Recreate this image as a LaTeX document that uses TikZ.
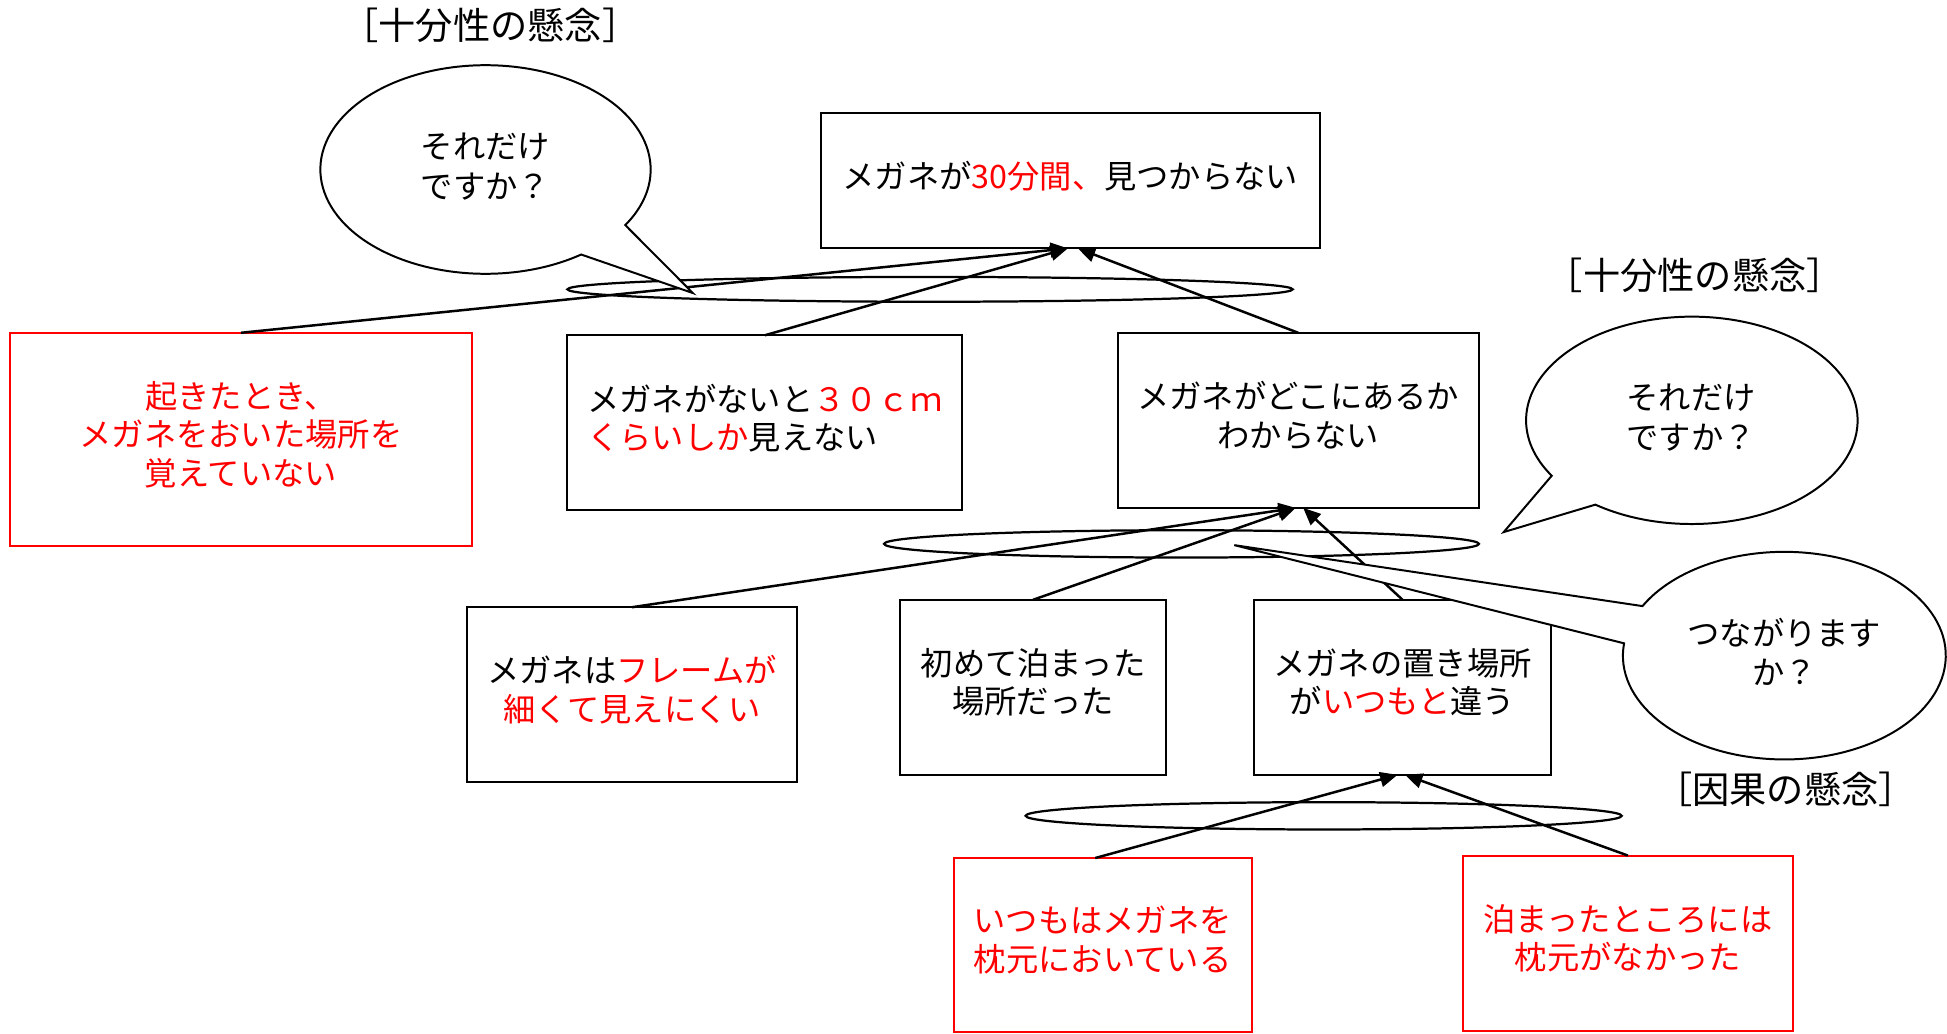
\documentclass[tikz,border=0pt]{standalone}
\usepackage{fontspec}
\setmainfont{Noto Sans CJK JP}
\usetikzlibrary{arrows.meta}
\definecolor{myred}{RGB}{255,0,0}
\begin{document}
\begin{tikzpicture}[x=0.5pt,y=-0.5pt,
  box/.style={draw=black, line width=0.8pt, inner sep=0pt, outer sep=0pt, align=center, fill=white, text depth=5pt, font=\fontsize{13}{15.5}\selectfont},
  redbox/.style={box, draw=myred, text=myred},
  ring/.style={draw, line width=0.9pt},
  arr/.style={line width=1pt, -{Triangle[length=7pt,width=6pt]}},
  bubble/.style={draw, line width=0.8pt, fill=white},
  btext/.style={align=left, font=\fontsize{13}{16}\selectfont},
  lbl/.style={font=\fontsize{15}{17}\selectfont}
]
\useasboundingbox (0,0) rectangle (1568,832);

% grouping ellipses
\draw[ring] (749,233) ellipse [x radius=292, y radius=10];
\draw[ring] (951.5,438) ellipse [x radius=239.5, y radius=11];
\draw[ring] (1066,657) ellipse [x radius=240, y radius=11];

% boxes
\node[box, minimum width=201pt, minimum height=54.5pt] (T) at (862,145.5)
  {メガネが{\color{myred}30分間、}見つからない};
\node[redbox, minimum width=186pt, minimum height=86pt] (L) at (194,354)
  {起きたとき、\\メガネをおいた場所を\\覚えていない};
\node[box, align=left, minimum width=159pt, minimum height=70.5pt] (M) at (616,340.5)
  {メガネがないと{\color{myred}３０ｃｍ}\\{\color{myred}くらいしか}見えない};
\node[box, minimum width=145.5pt, minimum height=70.5pt] (R) at (1045.5,338.5)
  {メガネがどこにあるか\\わからない};
\node[box, minimum width=133pt, minimum height=70.5pt] (A) at (509,559.5)
  {メガネは{\color{myred}フレームが}\\{\color{myred}細くて見えにくい}};
\node[box, minimum width=107pt, minimum height=70.5pt] (B) at (832,553.5)
  {初めて泊まった\\場所だった};
\node[box, minimum width=119.5pt, minimum height=70.5pt] (C) at (1129.5,553.5)
  {メガネの置き場所\\が{\color{myred}いつもと}違う};
\node[redbox, minimum width=120pt, minimum height=70pt] (D) at (888,761)
  {いつもはメガネを\\枕元においている};
\node[redbox, minimum width=133pt, minimum height=70.5pt] (E) at (1311,759.5)
  {泊まったところには\\枕元がなかった};

% arrows
\draw[arr] (L.north) -- ([xshift=-1pt]T.south);
\draw[arr] (M.north) -- ([xshift=-1pt]T.south);
\draw[arr] (R.north) -- ([xshift=3pt]T.south);
\draw[arr] (A.north) -- ([xshift=-1pt]R.south);
\draw[arr] (B.north) -- ([xshift=-1pt]R.south);
\draw[arr] (C.north) -- ([xshift=2pt]R.south);
\draw[arr] ([xshift=-3pt]D.north) -- ([xshift=-2pt]C.south);
\draw[arr] (E.north) -- ([xshift=1pt]C.south);

% speech bubbles
\coordinate (t1) at (558,236);
\coordinate (t2) at (1211,428.5);
\coordinate (t3) at (994,439);
\draw[bubble] ([shift={(391,136.5)}]54.6:133 and 84) -- (t1)
  -- ([shift={(391,136.5)}]32.2:133 and 84)
  arc[start angle=32.2, end angle=-305.4, x radius=133, y radius=84] -- cycle;
\draw[bubble] ([shift={(1362.5,338.5)}]147.7:133.5 and 83.5) -- (t2)
  -- ([shift={(1362.5,338.5)}]125.6:133.5 and 83.5)
  arc[start angle=125.6, end angle=-212.3, x radius=133.5, y radius=83.5] -- cycle;
\draw[bubble] ([shift={(1437,528)}]208.5:130 and 83.6) -- (t3)
  -- ([shift={(1437,528)}]186.8:130 and 83.6)
  arc[start angle=186.8, end angle=-151.5, x radius=130, y radius=83.6] -- cycle;
\node[btext] (b1) at (391,134) {それだけ\\ですか？};
\node[btext] (b2) at (1362,336) {それだけ\\ですか？};
\node[btext, align=center] (b3) at (1437,525) {つながります\\か？};

% labels
\node[lbl] (l1) at (395,20) {［十分性の懸念］};
\node[lbl] (l2) at (1365,222) {［十分性の懸念］};
\node[lbl] (l3) at (1438,636) {［因果の懸念］};
\end{tikzpicture}
\end{document}
